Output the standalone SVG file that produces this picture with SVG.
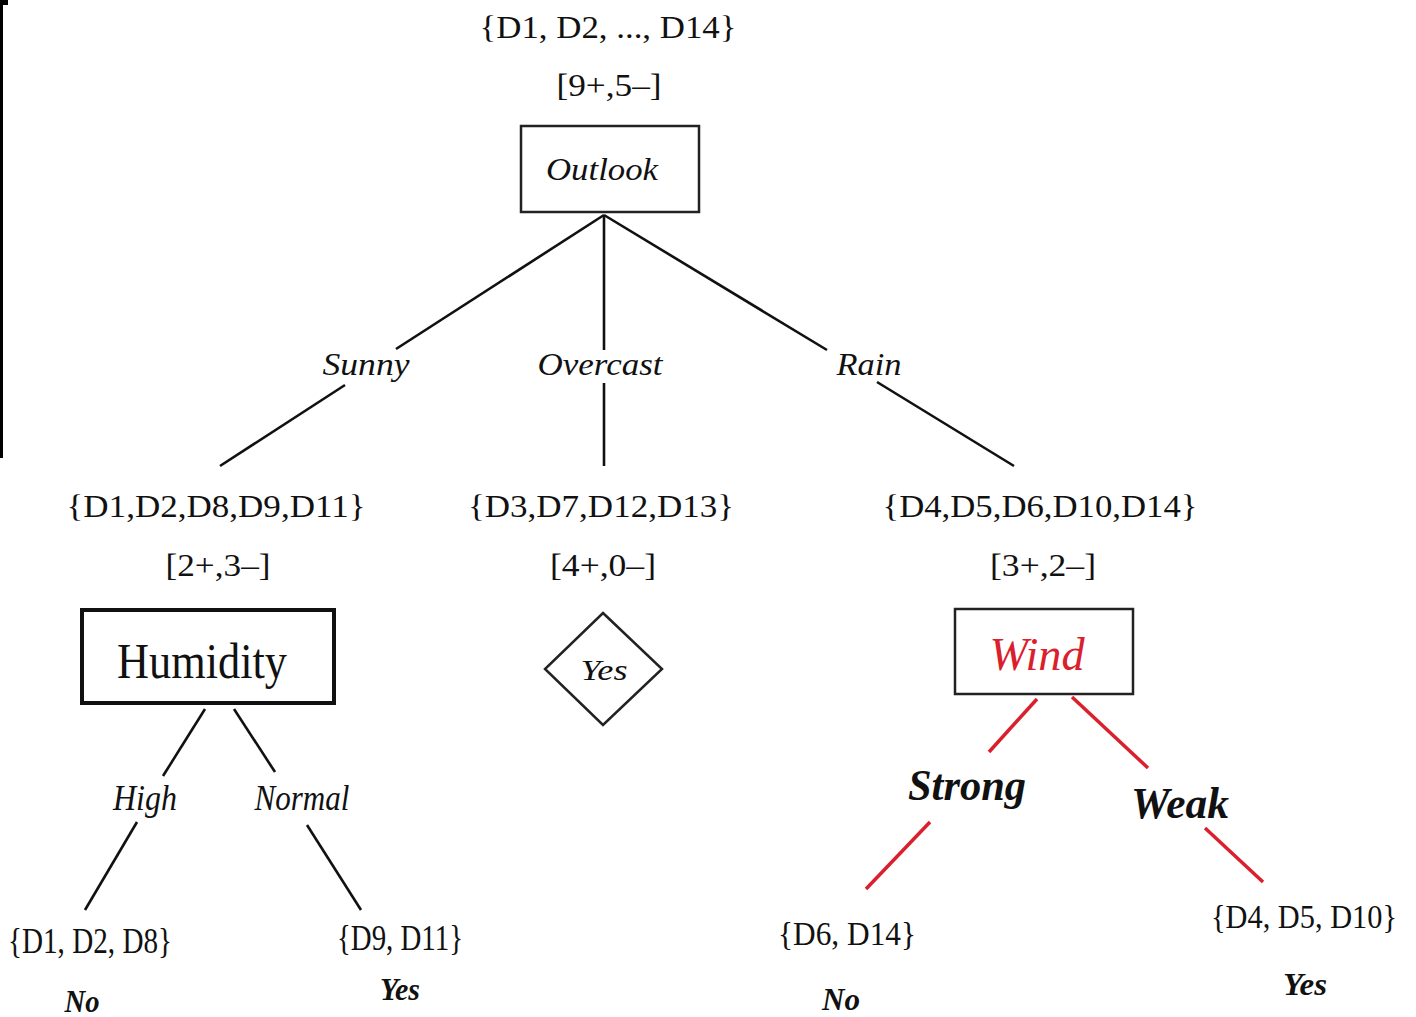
<svg xmlns="http://www.w3.org/2000/svg" width="1416" height="1017" viewBox="0 0 1416 1017">
  <style>
    text { font-family: "Liberation Serif", "Times New Roman", serif; fill: #111; text-anchor: middle; }
    .set { font-size: 31px; }
    .lbl { font-size: 31px; font-style: italic; }
    .leaf { font-size: 32px; font-style: italic; font-weight: bold; }
    .box { fill: #fff; stroke: #222; stroke-width: 2.5; }
    .edge { stroke: #111; stroke-width: 2.6; fill: none; }
    .red { stroke: #d9202c; stroke-width: 3.5; fill: none; }
  </style>
  <rect width="1416" height="1017" fill="#fff"/>
  <!-- left border fragment -->
  <rect x="0" y="0" width="3" height="458" fill="#000"/>
  <rect x="0" y="0" width="8" height="5" fill="#000"/>

  <g id="connectors">
    <line class="edge" x1="604" y1="215" x2="396" y2="349"/>
    <line class="edge" x1="345" y1="385" x2="220" y2="466"/>
    <line class="edge" x1="604" y1="215" x2="604" y2="350"/>
    <line class="edge" x1="604" y1="383" x2="604" y2="466"/>
    <line class="edge" x1="604" y1="215" x2="827" y2="350"/>
    <line class="edge" x1="877" y1="382" x2="1014" y2="466"/>
    <line class="edge" x1="205" y1="709" x2="163" y2="776"/>
    <line class="edge" x1="137" y1="822" x2="85" y2="910"/>
    <line class="edge" x1="234" y1="709" x2="275" y2="772"/>
    <line class="edge" x1="307" y1="825" x2="361" y2="910"/>
    <line class="red" x1="1037" y1="699" x2="989" y2="752"/>
    <line class="red" x1="930" y1="822" x2="866" y2="889"/>
    <line class="red" x1="1072" y1="697" x2="1148" y2="768"/>
    <line class="red" x1="1205" y1="828" x2="1263" y2="882"/>
  </g>

  <g id="edge-labels">
    <text class="lbl" x="366" y="375" textLength="87" lengthAdjust="spacingAndGlyphs">Sunny</text>
    <text class="lbl" x="600" y="375" textLength="125" lengthAdjust="spacingAndGlyphs">Overcast</text>
    <text class="lbl" x="869" y="375" textLength="65" lengthAdjust="spacingAndGlyphs">Rain</text>
    <text class="lbl" x="145" y="810" textLength="64" lengthAdjust="spacingAndGlyphs" style="font-size:36px">High</text>
    <text class="lbl" x="302" y="810" textLength="95" lengthAdjust="spacingAndGlyphs" style="font-size:36px">Normal</text>
    <text class="leaf" x="967" y="800" textLength="118" lengthAdjust="spacingAndGlyphs" style="font-size:44px">Strong</text>
    <text class="leaf" x="1180" y="818" textLength="98" lengthAdjust="spacingAndGlyphs" style="font-size:44px">Weak</text>
  </g>

  <g id="root">
    <text class="set" x="608" y="38" textLength="257" lengthAdjust="spacingAndGlyphs">{D1, D2, ..., D14}</text>
    <text class="set" x="609" y="96" textLength="105" lengthAdjust="spacingAndGlyphs">[9+,5–]</text>
    <rect class="box" x="521" y="126" width="178" height="86"/>
    <text class="lbl" x="602" y="180" textLength="112" lengthAdjust="spacingAndGlyphs">Outlook</text>
  </g>

  <g id="humidity">
    <text class="set" x="216" y="517" textLength="299" lengthAdjust="spacingAndGlyphs">{D1,D2,D8,D9,D11}</text>
    <text class="set" x="218" y="576" textLength="105" lengthAdjust="spacingAndGlyphs">[2+,3–]</text>
    <rect x="82" y="610" width="252" height="93" fill="#fff" stroke="#111" stroke-width="4"/>
    <text x="202" y="678" style="font-size:50px" textLength="170" lengthAdjust="spacingAndGlyphs">Humidity</text>
  </g>

  <g id="overcast-leaf">
    <text class="set" x="601" y="517" textLength="266" lengthAdjust="spacingAndGlyphs">{D3,D7,D12,D13}</text>
    <text class="set" x="603" y="576" textLength="106" lengthAdjust="spacingAndGlyphs">[4+,0–]</text>
    <polygon class="box" points="603,613 662,669 603,725 545,669"/>
    <text class="lbl" x="604" y="680" textLength="47" lengthAdjust="spacingAndGlyphs" style="font-size:29px">Yes</text>
  </g>

  <g id="wind">
    <text class="set" x="1040" y="517" textLength="315" lengthAdjust="spacingAndGlyphs">{D4,D5,D6,D10,D14}</text>
    <text class="set" x="1043" y="576" textLength="106" lengthAdjust="spacingAndGlyphs">[3+,2–]</text>
    <rect class="box" x="955" y="609" width="178" height="85"/>
    <text class="lbl" x="1037" y="670" textLength="95" lengthAdjust="spacingAndGlyphs" style="font-size:46px;fill:#d9202c">Wind</text>
  </g>

  <g id="leaf-high">
    <text class="set" x="90" y="953" textLength="164" lengthAdjust="spacingAndGlyphs" style="font-size:36px">{D1, D2, D8}</text>
    <text class="leaf" x="82" y="1012" textLength="35" lengthAdjust="spacingAndGlyphs">No</text>
  </g>
  <g id="leaf-normal">
    <text class="set" x="400" y="950" textLength="126" lengthAdjust="spacingAndGlyphs" style="font-size:36px">{D9, D11}</text>
    <text class="leaf" x="400" y="1000" textLength="40" lengthAdjust="spacingAndGlyphs">Yes</text>
  </g>
  <g id="leaf-strong">
    <text class="set" x="847" y="945" textLength="138" lengthAdjust="spacingAndGlyphs" style="font-size:34px">{D6, D14}</text>
    <text class="leaf" x="841" y="1010" textLength="38" lengthAdjust="spacingAndGlyphs">No</text>
  </g>
  <g id="leaf-weak">
    <text class="set" x="1304" y="928" textLength="186" lengthAdjust="spacingAndGlyphs" style="font-size:33px">{D4, D5, D10}</text>
    <text class="leaf" x="1305" y="995" textLength="44" lengthAdjust="spacingAndGlyphs">Yes</text>
  </g>
</svg>
